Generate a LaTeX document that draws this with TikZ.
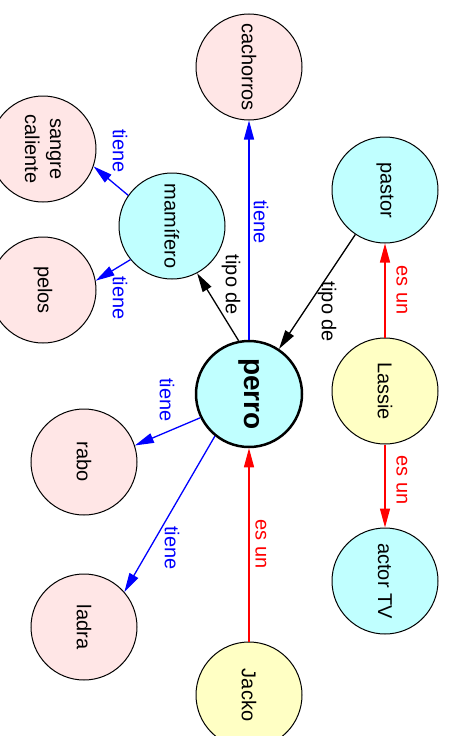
\documentclass[tikz,border=0pt]{standalone}
\usepackage{fontspec}
\setmainfont{Liberation Sans}
\usepackage{tikz}
\usetikzlibrary{arrows.meta}
\definecolor{PaleCyan}{HTML}{C0FFFF}
\definecolor{PalePink}{HTML}{FFE6E6}
\definecolor{PaleYellow}{HTML}{FFFFC4}
\definecolor{LinkBlue}{HTML}{0000FF}
\definecolor{LinkRed}{HTML}{FF0000}

\begin{document}
\begin{tikzpicture}[x=1pt,y=-1pt,
    concept/.style={circle,draw,line width=1pt,minimum size=106pt,inner sep=0pt,
      rotate=-90,align=center,font=\fontsize{20}{25}\selectfont},
    kind/.style={concept,fill=PaleCyan},
    part/.style={concept,fill=PalePink},
    dog/.style={concept,fill=PaleYellow},
    linklabel/.style={rotate=-90,inner sep=0pt,font=\fontsize{20}{24}\selectfont},
    link/.style={line width=1.3pt,-{Triangle[length=19pt,width=10pt]}}]
    \useasboundingbox (0,0) rectangle (450,736);
    % concepts (angle anchors below are in the turned frame: picture angle + 90)
    \node[kind,line width=2.5pt,font=\fontsize{28}{32}\selectfont\bfseries] (perro) at (249,394) {perro};
    \node[kind] (mamifero) at (172,226) {mamífero};
    \node[kind] (pastor) at (385,190) {pastor};
    \node[kind] (actor) at (385,581) {actor TV};
    \node[part] (cachorros) at (249,67) {cachorros};
    \node[part] (sangre) at (43,149) {sangre\\caliente};
    \node[part] (pelos) at (43,290) {pelos};
    \node[part] (rabo) at (84,462) {rabo};
    \node[part] (ladra) at (84,627) {ladra};
    \node[dog] (lassie) at (385,391) {Lassie};
    \node[dog] (jacko) at (249,695) {Jacko};
    % links
    \draw[link,LinkBlue] (perro) -- (cachorros);
    \draw[link] (perro.191) -- (mamifero.28);
    \draw[link] (pastor) -- (perro);
    \draw[link,LinkBlue] (perro.296) -- (rabo.108);
    \draw[link,LinkBlue] (perro.321) -- (ladra.131);
    \draw[link,LinkBlue] (mamifero.235) -- (sangre.71);
    \draw[link,LinkBlue] (mamifero.309) -- (pelos.100);
    \draw[link,LinkRed] (lassie) -- (pastor);
    \draw[link,LinkRed] (lassie) -- (actor);
    \draw[link,LinkRed] (jacko) -- (perro);
    % link words
    \node[linklabel,text=LinkBlue] (tieneC) at (261,222) {tiene};
    \node[linklabel] (tipoM) at (231,285) {tipo de};
    \node[linklabel] (tipoP) at (327,312) {tipo de};
    \node[linklabel,text=LinkRed] (esunP) at (402,290) {es un};
    \node[linklabel,text=LinkRed] (esunA) at (402,480) {es un};
    \node[linklabel,text=LinkRed] (esunJ) at (261,544) {es un};
    \node[linklabel,text=LinkBlue] (tieneS) at (120,151) {tiene};
    \node[linklabel,text=LinkBlue] (tieneP) at (120,298) {tiene};
    \node[linklabel,text=LinkBlue] (tieneR) at (167,400) {tiene};
    \node[linklabel,text=LinkBlue] (tieneL) at (172,548) {tiene};
\end{tikzpicture}
\end{document}
